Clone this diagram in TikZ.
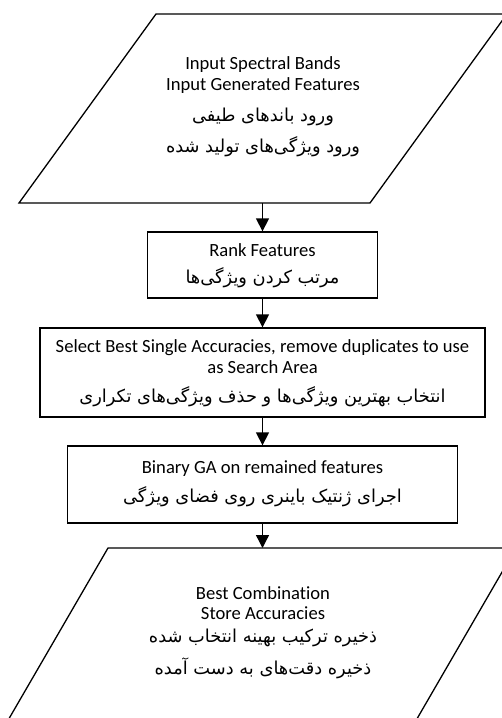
\documentclass[tikz,border=0pt]{standalone}
\usepackage{fontspec}
\setmainfont{Carlito}[Ligatures=CommonOff]
\newfontfamily\fafont[Script=Arabic]{DejaVu Sans}
\TeXXeTstate=1
\usetikzlibrary{arrows.meta}
\tikzset{
  box/.style={draw, line width=1.3pt, inner sep=0pt},
  en/.style={font=\fontsize{18.6}{21}\selectfont, inner sep=0pt},
  fa/.style={font=\fafont\fontsize{17.8}{30}\selectfont, inner sep=0pt},
  arr/.style={line width=1.3pt, -{Triangle[length=13pt,width=13pt]}},
  para/.style={draw, line width=1.3pt, line join=miter}
}
\begin{document}
\begin{tikzpicture}[x=1pt,y=-1pt]
\useasboundingbox (0,0) rectangle (502,718);
\clip (0,0) rectangle (502,718);
% top parallelogram (input)
\draw[para] (156,14) -- (507,14) -- (370,203) -- (19,203) -- cycle;
\coordinate (inB) at (262.5,203);
\node[en] (in1) at (263,65) {Input Spectral Bands};
\node[en] (in2) at (263,86) {Input Generated Features};
\node[fa] (in3) at (263,117) {\beginR ورود باندهای طیفی\endR};
\node[fa] (in4) at (263,147) {\beginR ورود ویژگی‌های تولید شده\endR};
% rank box
\node[box, minimum width=230pt, minimum height=66pt] (rank) at (262.5,265) {};
\node[en] (rank1) at (262.5,250) {Rank Features};
\node[fa] (rank2) at (262.5,278) {\beginR مرتب کردن ویژگی‌ها\endR};
% select box
\node[box, minimum width=445pt, minimum height=89pt] (sel) at (262.5,372.5) {};
\node[en] (sel1) at (262.5,348) {Select Best Single Accuracies, remove duplicates to use};
\node[en] (sel2) at (262.5,367) {as Search Area};
\node[fa] (sel3) at (262.5,397) {\beginR انتخاب بهترین ویژگی‌ها و حذف ویژگی‌های تکراری\endR};
% GA box
\node[box, minimum width=390pt, minimum height=77pt] (ga) at (262.5,484.5) {};
\node[en] (ga1) at (262.5,469) {Binary GA on remained features};
\node[fa] (ga2) at (262.5,497) {\beginR اجرای ژنتیک باینری روی فضای ویژگی\endR};
% bottom parallelogram (output)
\draw[para] (108,548) -- (516,548) -- (404.7,740) -- (-3.4,740) -- cycle;
\coordinate (outT) at (262.5,548);
\node[en] (out1) at (263,593) {Best Combination};
\node[en] (out2) at (263,613) {Store Accuracies};
\node[fa] (out3) at (263,638) {\beginR ذخیره ترکیب بهینه انتخاب شده\endR};
\node[fa] (out4) at (263,668) {\beginR ذخیره دقت‌های به دست آمده\endR};
% connectors
\draw[arr] (inB) -- (rank.north);
\draw[arr] (rank.south) -- (sel.north);
\draw[arr] (sel.south) -- (ga.north);
\draw[arr] (ga.south) -- (outT);
\end{tikzpicture}
\end{document}
